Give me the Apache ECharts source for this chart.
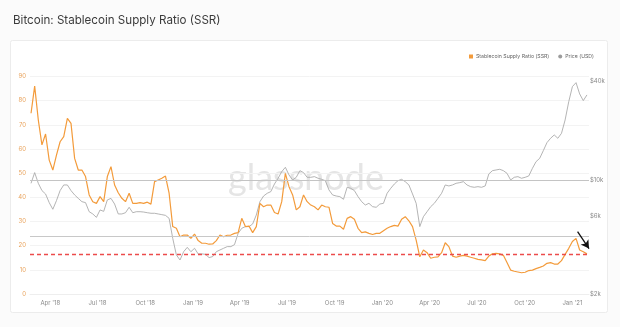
<!DOCTYPE html>
<html>
<head>
<meta charset="utf-8">
<script src="https://cdn.jsdelivr.net/npm/echarts@6/dist/echarts.min.js"></script>
<style>
  html, body { margin: 0; padding: 0; background: #fbfbfb; }
  #chart { width: 620px; height: 327px; }
</style>
</head>
<body>
<div id="chart"></div>
<script>
// Weekly samples, first on 2018-02-23
const startDate = Date.UTC(2018, 1, 23);
const stepDays = 7;

// Stablecoin Supply Ratio (left axis)
const ssrValues = [
  74.8, 86, 72, 61.7, 66.2, 55.4, 51.3, 57.5, 63, 65.1,
  72.7, 70.6, 56.1, 51.3, 51.3, 48.6, 41, 38.2, 37.5, 40.3,
  38.2, 48.6, 52.7, 45.1, 41.9, 39.6, 38.2, 41.7, 37.5, 37.5,
  37.8, 37.5, 38, 37.2, 46.5, 47.2, 47.9, 48.8, 41.7, 27.9,
  27.2, 23.7, 24.4, 24.4, 23, 24.8, 22.1, 21, 21, 20.6,
  20.7, 22.1, 24.4, 23.7, 24.3, 24.4, 25.1, 25.4, 31.3, 27.9,
  28.1, 25.4, 27.9, 37.5, 36.1, 36.8, 36.8, 33.7, 33.1, 38.2,
  49.9, 44.4, 41, 34.8, 36.1, 41, 38.2, 36.8, 36.1, 34.8,
  36.8, 36.1, 35.9, 29.2, 28.1, 28.1, 26.8, 31.3, 32, 30.9,
  27.2, 25.4, 25.7, 25.1, 24.6, 25.1, 25.1, 26.2, 27.2, 27.9,
  28.4, 28.1, 30.9, 32, 30.3, 27.9, 22.3, 15.4, 18.2, 17.1,
  14.8, 15.2, 15.4, 17.1, 21.2, 19.6, 15.7, 15.2, 15.7, 16,
  15.7, 15.2, 14.8, 14.3, 14.1, 13.8, 15.7, 16.6, 16.8, 16.6,
  16, 13, 9.9, 9.4, 9.1, 8.8, 9, 9.7, 9.9, 10.5,
  11, 11.6, 12.7, 13, 12.4, 12.4, 13.8, 16.4, 18.9, 21.7,
  23, 18.2, 17.5, 16.6
];

// Bitcoin price in USD (right axis, log scale)
const priceValues = [
  9520, 11070, 9520, 8590, 8190, 7250, 6600, 7460, 8590, 9300,
  9300, 8590, 8080, 7700, 7350, 7250, 6380, 6180, 5890, 6540,
  6410, 7530, 7700, 7110, 6180, 6180, 6290, 6790, 6290, 6380,
  6380, 6350, 6290, 6240, 6240, 6180, 6120, 6060, 5810, 4380,
  3470, 3230, 3630, 3860, 3630, 3810, 3520, 3520, 3500, 3340,
  3390, 3630, 3720, 3810, 3900, 3900, 4010, 4700, 5050, 5170,
  5170, 5370, 6090, 7350, 7960, 8270, 8470, 9430, 10220, 11220,
  11930, 10710, 9980, 10360, 11380, 11070, 10360, 10360, 10460, 10220,
  10070, 9880, 8670, 8080, 7960, 7890, 7600, 9000, 8870, 8590,
  7890, 7350, 7010, 7180, 6850, 6790, 7110, 7180, 8270, 8870,
  9430, 9880, 10070, 9740, 9300, 8190, 7180, 5170, 5950, 6380,
  6850, 7180, 7700, 8270, 9300, 9170, 9300, 9520, 9610, 9740,
  9300, 9080, 9000, 9080, 9000, 9170, 10860, 11380, 11490, 11600,
  11380, 10960, 9980, 10360, 10460, 10220, 10360, 10560, 11760, 12920,
  13540, 15090, 16890, 17960, 18820, 17960, 19260, 23250, 30100, 37200,
  39340, 33540, 30540, 33080
];

// Axis ticks
const quarterTicks = [
  '2018-04-01', '2018-07-01', '2018-10-01', '2019-01-01', '2019-04-01', '2019-07-01',
  '2019-10-01', '2020-01-01', '2020-04-01', '2020-07-01', '2020-10-01', '2021-01-01'
];
const priceTicks = [2000, 6000, 10000, 40000];

// Reference levels
const ssrRedLevel = 16.3;
const ssrGreyLevel = 24;
const priceGreyLevel = 10000;
const arrowFrom = ['2021-01-11', 25.8];
const arrowTo = ['2021-02-02', 18.8];

const monthNames = ['Jan', 'Feb', 'Mar', 'Apr', 'May', 'Jun', 'Jul', 'Aug', 'Sep', 'Oct', 'Nov', 'Dec'];
const toTs = s => { const p = s.split('-').map(Number); return Date.UTC(p[0], p[1] - 1, p[2]); };
const dates = ssrValues.map((_, i) => startDate + i * stepDays * 86400000);

const chart = echarts.init(document.getElementById('chart'), null, { renderer: 'canvas' });

const labelFont = 'Inter, "Noto Sans", sans-serif';

chart.setOption({
  animation: false,
  backgroundColor: '#fbfbfb',
  textStyle: { fontFamily: labelFont },
  title: {
    text: 'Bitcoin: Stablecoin Supply Ratio (SSR)',
    left: 8,
    top: 10,
    textStyle: { fontSize: 11.6, fontWeight: 'normal', color: '#3b3b3b', fontFamily: labelFont }
  },
  graphic: [
    {
      type: 'rect', z: -10, silent: true,
      shape: { x: 10.5, y: 40.5, width: 597, height: 272, r: 2 },
      style: { fill: '#ffffff', stroke: '#ececec', lineWidth: 1 }
    },
    {
      type: 'text', z: 0, silent: true,
      left: 228, top: 160,
      style: {
        text: 'glassnode', fill: '#e5e5e5',
        font: '36px Lato, "Open Sans", sans-serif'
      }
    }
  ],
  legend: {
    right: 21, top: 49,
    itemWidth: 4, itemHeight: 4, itemGap: 9,
    textStyle: { fontSize: 5.2, color: '#666', padding: [0, 0, 0, -2] },
    data: [
      { name: 'Stablecoin Supply Ratio (SSR)', icon: 'rect' },
      { name: 'Price (USD)', icon: 'circle' }
    ]
  },
  grid: { left: 30, right: 31, top: 76.5, bottom: 33 },
  xAxis: {
    type: 'value',
    min: toTs('2018-02-21'),
    max: toTs('2021-02-02'),
    axisLine: { show: true, lineStyle: { color: '#eeeeee' } },
    axisTick: { show: false },
    splitLine: { show: false },
    axisLabel: {
      customValues: quarterTicks.map(toTs),
      fontSize: 6, color: '#8a8a8a', margin: 6,
      formatter: v => {
        const d = new Date(v);
        return monthNames[d.getUTCMonth()] + " '" + String(d.getUTCFullYear()).slice(2);
      }
    }
  },
  yAxis: [
    {
      type: 'value', min: 0, max: 90, interval: 10,
      axisLine: { show: false }, axisTick: { show: false },
      splitLine: { lineStyle: { color: '#f3f3f3', width: 1 } },
      axisLabel: { fontSize: 6, color: '#e9a45e', margin: 4 }
    },
    {
      type: 'log', logBase: 10, min: 2000, max: 42900,
      axisLine: { show: false }, axisTick: { show: false },
      splitLine: { show: false },
      axisLabel: {
        customValues: priceTicks,
        fontSize: 6, color: '#8a8a8a', margin: 1,
        formatter: v => '$' + Math.round(v / 1000) + 'k'
      }
    }
  ],
  series: [
    {
      name: 'Price (USD)',
      type: 'line', yAxisIndex: 1, z: 2,
      data: dates.map((d, i) => [d, priceValues[i]]),
      showSymbol: false, symbol: 'circle',
      itemStyle: { color: '#9c9c9c' },
      lineStyle: { color: '#a6a6a6', width: 0.85 },
      markLine: {
        silent: true, symbol: ['none', 'none'], label: { show: false },
        lineStyle: { color: '#c4c4c4', width: 1, type: 'solid' },
        data: [{ yAxis: priceGreyLevel }]
      }
    },
    {
      name: 'Stablecoin Supply Ratio (SSR)',
      type: 'line', yAxisIndex: 0, z: 3,
      data: dates.map((d, i) => [d, ssrValues[i]]),
      showSymbol: false,
      itemStyle: { color: '#f39b3b' },
      lineStyle: { color: '#f39b3b', width: 1.2 },
      markLine: {
        silent: true, symbol: ['none', 'none'], label: { show: false },
        data: [
          { yAxis: ssrGreyLevel, lineStyle: { color: '#c8c8c8', width: 1, type: 'solid' } },
          { yAxis: ssrRedLevel, lineStyle: { color: '#ec4b4b', width: 1.3, type: [4, 3] } },
          [
            { coord: [toTs(arrowFrom[0]), arrowFrom[1]], symbol: 'none', lineStyle: { color: '#111', width: 1.3, type: 'solid' } },
            { coord: [toTs(arrowTo[0]), arrowTo[1]], symbol: 'arrow', symbolSize: [7, 8] }
          ]
        ]
      }
    }
  ]
});
</script>
</body>
</html>
